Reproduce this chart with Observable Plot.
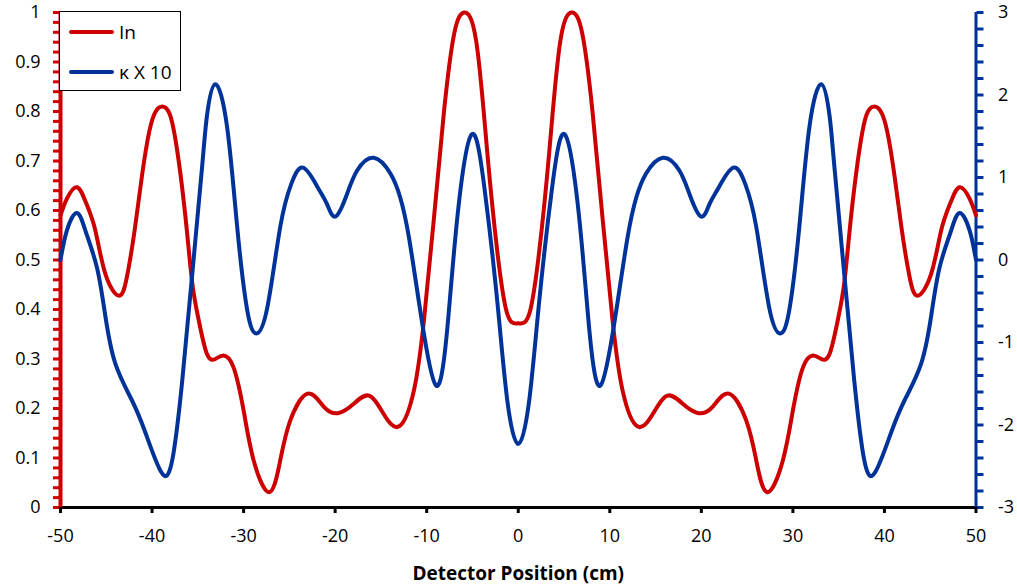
<!DOCTYPE html>
<html>
<head>
<meta charset="utf-8">
<script src="https://cdn.jsdelivr.net/npm/d3@7"></script>
<script src="https://cdn.jsdelivr.net/npm/@observablehq/plot@0.6"></script>
<style>
  html, body { margin: 0; padding: 0; background: #fff; }
  #wrap { position: relative; width: 1017px; height: 586px; font-family: "Open Sans", sans-serif; }
  #legend { position: absolute; left: 59px; top: 11px; width: 120px; height: 78px; border: 1px solid #000; background: #fff; box-sizing: content-box; }
  .item { position: absolute; left: 0; height: 24px; display: flex; align-items: center; font-size: 19px; color: #000; }
  .sw { display: inline-block; width: 45px; height: 4px; border-radius: 2px; margin-left: 9px; margin-right: 5px; }
</style>
</head>
<body>
<div id="wrap"></div>
<script>
// Detector position (cm) and normalised intensity In
const inX = [-50, -49.3, -48.2, -47.2, -46.2, -45.1, -43.6, -42.7, -41.9, -41.1, -40.3, -39.6, -38.9, -38.2, -37.6, -36.9, -36.2, -35.6, -34.9, -34.0, -33.1, -32.2, -31.1, -30.0, -28.9, -27.2, -26.0, -24.9, -23.0, -21.2, -19.6, -18.0, -16.3, -14.7, -13.0, -11.4, -10.3, -9.2, -8.1, -7.0, -5.9, -4.6, -3.4, -2.3, -1.2, 0,
             1.2, 2.3, 3.4, 4.6, 5.9, 7.0, 8.1, 9.2, 10.3, 11.4, 13.0, 14.7, 16.3, 18.0, 19.6, 21.2, 23.0, 24.9, 26.0, 27.2, 28.9, 30.0, 31.1, 32.2, 33.1, 34.0, 34.9, 35.6, 36.2, 36.9, 37.6, 38.2, 38.9, 39.6, 40.3, 41.1, 41.9, 42.7, 43.6, 45.1, 46.2, 47.2, 48.2, 49.3, 50];
const inVals = [0.59, 0.624, 0.647, 0.615, 0.56, 0.472, 0.428, 0.47, 0.56, 0.67, 0.76, 0.80, 0.81, 0.80, 0.76, 0.674, 0.56, 0.452, 0.378, 0.31, 0.30, 0.307, 0.283, 0.196, 0.095, 0.031, 0.095, 0.176, 0.23, 0.203, 0.191, 0.209, 0.226, 0.189, 0.164, 0.236, 0.378, 0.586, 0.802, 0.957, 1.0, 0.943, 0.721, 0.519, 0.391, 0.372,
                0.391, 0.519, 0.721, 0.943, 1.0, 0.957, 0.802, 0.586, 0.378, 0.236, 0.164, 0.189, 0.226, 0.209, 0.191, 0.203, 0.23, 0.176, 0.095, 0.031, 0.095, 0.196, 0.283, 0.307, 0.30, 0.31, 0.378, 0.452, 0.56, 0.674, 0.76, 0.80, 0.81, 0.80, 0.76, 0.67, 0.56, 0.47, 0.428, 0.472, 0.56, 0.615, 0.647, 0.624, 0.59];

// Detector position (cm) and kappa x 10 (right axis)
const kX = [-50, -49.3, -48.2, -47.2, -46.0, -45.1, -44.0, -42.2, -40.7, -39.0, -37.8, -36.7, -35.6, -34.5, -34.0, -33.1, -31.8, -30.7, -29.6, -28.6, -27.4, -26.0, -24.8, -23.5, -21.9, -20.9, -19.95, -18.7, -17.6, -15.8, -13.95, -12.9, -11.95, -10.6, -9.0, -7.8, -6.65, -5.1, -3.7, -2.3, -1.2, 0,
            1.2, 2.3, 3.7, 5.1, 6.65, 7.8, 9.0, 10.6, 11.95, 12.9, 13.95, 15.8, 17.6, 18.7, 19.95, 20.9, 21.9, 23.5, 24.8, 26.0, 27.4, 28.6, 29.6, 30.7, 31.8, 33.1, 34.0, 34.5, 35.6, 36.7, 37.8, 39.0, 40.7, 42.2, 44.0, 45.1, 46.0, 47.2, 48.2, 49.3, 50];
const kVals = [0.0, 0.36, 0.57, 0.33, -0.10, -0.68, -1.26, -1.70, -2.10, -2.57, -2.43, -1.46, -0.16, 1.17, 1.75, 2.13, 1.61, 0.40, -0.61, -0.89, -0.57, 0.40, 0.92, 1.12, 0.88, 0.68, 0.527, 0.80, 1.085, 1.24, 1.045, 0.76, 0.28, -0.69, -1.52, -0.89, 0.52, 1.52, 0.88, -0.49, -1.70, -2.23,
               -1.70, -0.49, 0.88, 1.52, 0.52, -0.89, -1.52, -0.69, 0.28, 0.76, 1.045, 1.24, 1.085, 0.80, 0.527, 0.68, 0.88, 1.12, 0.92, 0.40, -0.57, -0.89, -0.61, 0.40, 1.61, 2.13, 1.75, 1.17, -0.16, -1.46, -2.43, -2.57, -2.10, -1.70, -1.26, -0.68, -0.10, 0.33, 0.57, 0.36, 0.0];

const xTicks = [-50, -40, -30, -20, -10, 0, 10, 20, 30, 40, 50];
const leftMajor = [0, 0.1, 0.2, 0.3, 0.4, 0.5, 0.6, 0.7, 0.8, 0.9, 1];
const rightMajor = [-3, -2, -1, 0, 1, 2, 3];

const RED = "#CC0000", BLUE = "#003399";
const kToY = d3.scaleLinear([-3, 3], [0, 1]);

const inData = inX.map((x, i) => ({x, v: inVals[i]}));
const kData = kX.map((x, i) => ({x, v: kToY(kVals[i])}));

const leftMinor = d3.range(0, 51).map(i => i / 50);
const rightMinor = d3.range(0, 31).map(i => kToY(-3 + i * 0.2));

const plot = Plot.plot({
  width: 1017,
  height: 586,
  marginLeft: 60,
  marginRight: 41.5,
  marginTop: 12,
  marginBottom: 79,
  style: {fontFamily: "Open Sans, sans-serif", fontSize: "18px", color: "#000", background: "#fff", overflow: "visible"},
  x: {domain: [-50, 50]},
  y: {domain: [0, 1]},
  marks: [
    Plot.axisY(leftMinor, {anchor: "left", tickSize: 7, stroke: RED, strokeWidth: 3, tickFormat: () => "", label: null}),
    Plot.axisY(leftMajor, {anchor: "left", tickSize: 0, tickPadding: 20, tickFormat: d => String(+d.toFixed(1)), fill: "#000", label: null}),
    Plot.axisY(rightMinor, {anchor: "right", tickSize: 7, stroke: BLUE, strokeWidth: 3, tickFormat: () => "", label: null}),
    Plot.axisY(rightMajor.map(kToY), {anchor: "right", tickSize: 0, tickPadding: 22, tickFormat: d => String(Math.round(kToY.invert(d))), fill: "#000", label: null}),
    Plot.axisX(xTicks, {tickSize: 6, strokeWidth: 3, stroke: "#000", tickPadding: 16, tickFormat: d => String(d), label: null}),
    Plot.ruleY([0], {stroke: "#000", strokeWidth: 3}),
    Plot.ruleX([-50], {stroke: RED, strokeWidth: 4}),
    Plot.ruleX([50], {stroke: BLUE, strokeWidth: 3}),
    Plot.line(inData, {x: "x", y: "v", stroke: RED, strokeWidth: 4, curve: "natural"}),
    Plot.line(kData, {x: "x", y: "v", stroke: BLUE, strokeWidth: 4, curve: "natural"}),
    Plot.text(["Detector Position (cm)"], {frameAnchor: "bottom", dy: 72, text: d => d, fontWeight: "bold", fontSize: 19, fill: "#000"})
  ]
});

const wrap = document.getElementById("wrap");
wrap.appendChild(plot);

const legend = document.createElement("div");
legend.id = "legend";
legend.innerHTML =
  `<div class="item" style="top:8px"><span class="sw" style="background:${RED}"></span>In</div>` +
  `<div class="item" style="top:48px"><span class="sw" style="background:${BLUE}"></span>κ X 10</div>`;
wrap.appendChild(legend);
</script>
</body>
</html>
